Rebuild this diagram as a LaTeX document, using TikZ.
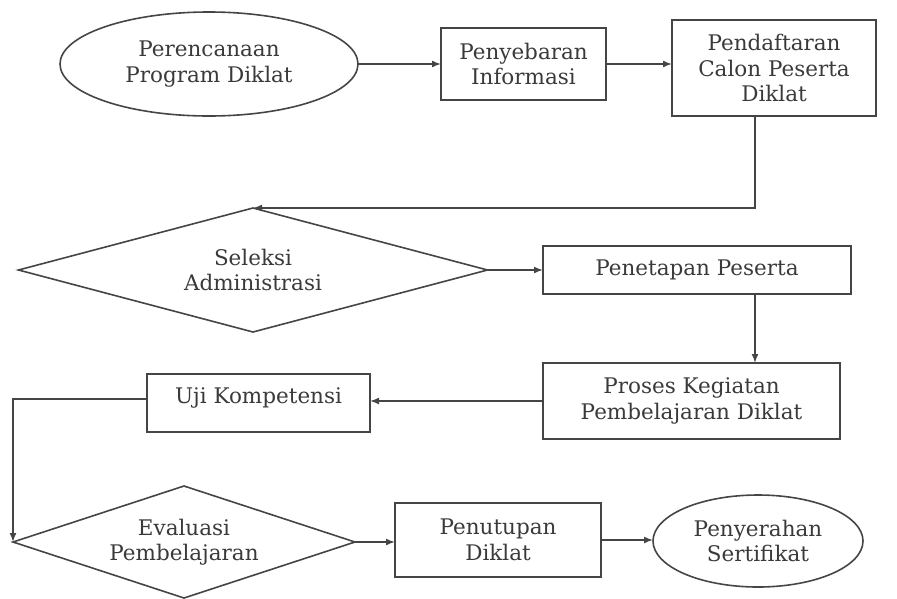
\documentclass[tikz,border=0pt]{standalone}
\usepackage{fontspec}
\setmainfont{DejaVu Serif}
\usetikzlibrary{shapes.geometric,arrows.meta}
\definecolor{linec}{HTML}{454545}
\definecolor{textc}{HTML}{3A3A3A}
\tikzset{
  base/.style={draw=linec, line width=1.6pt, text=textc, align=center, inner sep=0pt, outer sep=0pt,
    font=\fontsize{21.5}{25.5}\selectfont},
  boxn/.style={base, rectangle},
  ovaln/.style={base, ellipse},
  decn/.style={base, diamond},
  conn/.style={draw=linec, line width=1.6pt, -{Latex[length=9pt,width=7pt]}}
}
\begin{document}
\begin{tikzpicture}[x=1pt,y=-1pt]
\useasboundingbox (0,0) rectangle (897,598);
\node[ovaln, minimum width=298pt, minimum height=104pt] (e1) at (209,64) {Perencanaan\\Program Diklat};
\node[boxn, minimum width=165pt, minimum height=72pt] (r1) at (523.5,64) {Penyebaran\\Informasi};
\node[boxn, minimum width=204pt, minimum height=96pt] (r2) at (774,68) {Pendaftaran\\Calon Peserta\\Diklat};
\node[decn, aspect=3.8, minimum width=469pt, minimum height=124pt] (d1) at (253,270) {Seleksi\\Administrasi};
\node[boxn, minimum width=308pt, minimum height=48pt] (r3) at (697,270) {Penetapan Peserta};
\node[boxn, minimum width=297pt, minimum height=76pt] (r4) at (691.5,401) {Proses Kegiatan\\Pembelajaran Diklat};
\node[boxn, minimum width=223pt, minimum height=58pt, text height=16pt, text depth=16pt] (r5) at (258.5,403) {Uji Kompetensi};
\node[decn, aspect=3.05, minimum width=342pt, minimum height=112pt] (d2) at (184,542) {Evaluasi\\Pembelajaran};
\node[boxn, minimum width=206pt, minimum height=74pt] (r6) at (498,540) {Penutupan\\Diklat};
\node[ovaln, minimum width=210pt, minimum height=92pt] (e2) at (758,541) {Penyerahan\\Sertifikat};

\coordinate (c1) at ([xshift=-19pt]r2.south);
\coordinate (c2) at ([xshift=58pt]r3.south);
\coordinate (c3) at ([yshift=4pt]r5.west);

\draw[conn] (e1.east) -- (e1.east -| r1.west);
\draw[conn] (r1.east) -- (r1.east -| r2.west);
\draw[conn] (c1) |- (d1.north);
\draw[conn] (d1.east) -- (d1.east -| r3.west);
\draw[conn] (c2) -- (c2 |- r4.north);
\draw[conn] (r4.west) -- (r4.west -| r5.east);
\draw[conn] (c3) -| (d2.west);
\draw[conn] (d2.east) -- (d2.east -| r6.west);
\draw[conn] (r6.east) -- (r6.east -| e2.west);
\end{tikzpicture}
\end{document}
